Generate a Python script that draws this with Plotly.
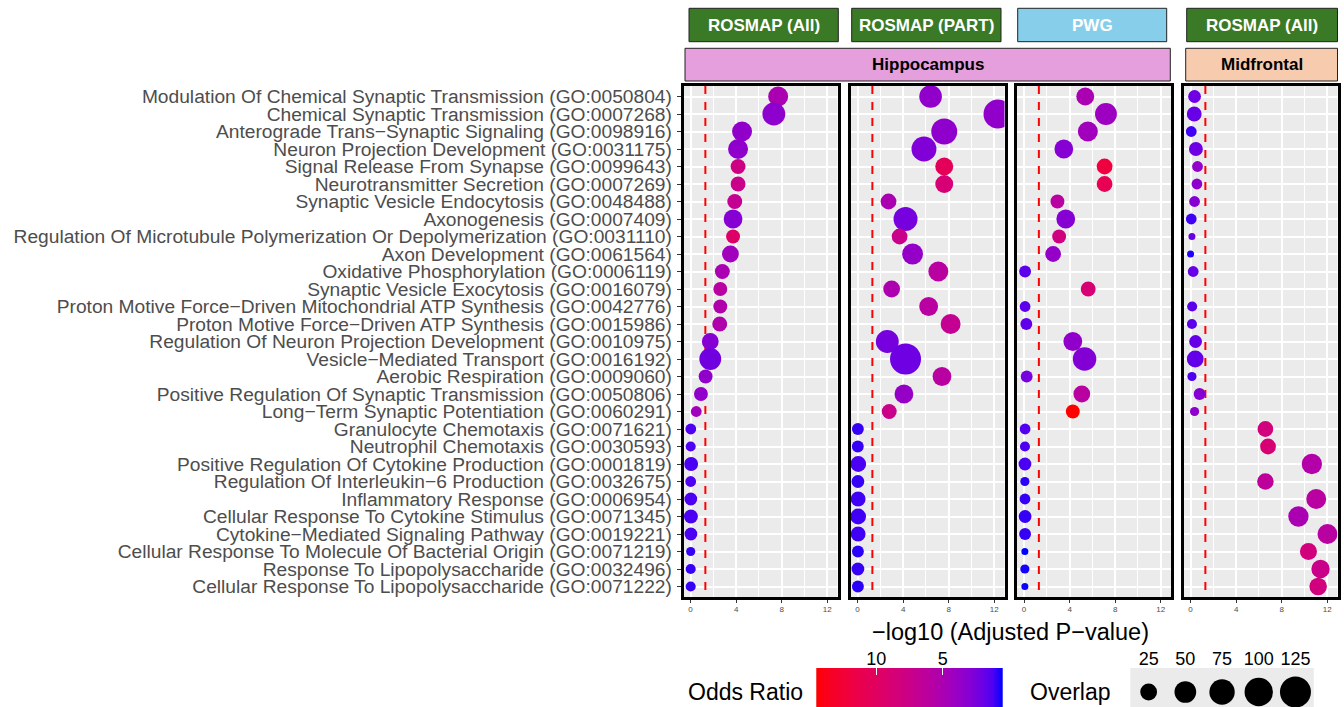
import numpy as np
import plotly.graph_objects as go

W, H = 1344, 707
MINUS = "\u2212"

terms = [
    "Modulation Of Chemical Synaptic Transmission (GO:0050804)",
    "Chemical Synaptic Transmission (GO:0007268)",
    f"Anterograde Trans{MINUS}Synaptic Signaling (GO:0098916)",
    "Neuron Projection Development (GO:0031175)",
    "Signal Release From Synapse (GO:0099643)",
    "Neurotransmitter Secretion (GO:0007269)",
    "Synaptic Vesicle Endocytosis (GO:0048488)",
    "Axonogenesis (GO:0007409)",
    "Regulation Of Microtubule Polymerization Or Depolymerization (GO:0031110)",
    "Axon Development (GO:0061564)",
    "Oxidative Phosphorylation (GO:0006119)",
    "Synaptic Vesicle Exocytosis (GO:0016079)",
    f"Proton Motive Force{MINUS}Driven Mitochondrial ATP Synthesis (GO:0042776)",
    f"Proton Motive Force{MINUS}Driven ATP Synthesis (GO:0015986)",
    "Regulation Of Neuron Projection Development (GO:0010975)",
    f"Vesicle{MINUS}Mediated Transport (GO:0016192)",
    "Aerobic Respiration (GO:0009060)",
    "Positive Regulation Of Synaptic Transmission (GO:0050806)",
    f"Long{MINUS}Term Synaptic Potentiation (GO:0060291)",
    "Granulocyte Chemotaxis (GO:0071621)",
    "Neutrophil Chemotaxis (GO:0030593)",
    "Positive Regulation Of Cytokine Production (GO:0001819)",
    f"Regulation Of Interleukin{MINUS}6 Production (GO:0032675)",
    "Inflammatory Response (GO:0006954)",
    "Cellular Response To Cytokine Stimulus (GO:0071345)",
    f"Cytokine{MINUS}Mediated Signaling Pathway (GO:0019221)",
    "Cellular Response To Molecule Of Bacterial Origin (GO:0071219)",
    "Response To Lipopolysaccharide (GO:0032496)",
    "Cellular Response To Lipopolysaccharide (GO:0071222)",
]

datasets = ["ROSMAP (All)", "ROSMAP (PART)", "PWG", "ROSMAP (All)"]
regions = ["Hippocampus", "Midfrontal"]

# -log10 adjusted p-value, odds ratio, overlap per panel
p1_x = [7.69, 7.31, 4.52, 4.17, 4.17, 4.17, 3.88, 3.73, 3.73, 3.50, 2.79, 2.61, 2.61, 2.56, 1.73,
        1.73, 1.32, 0.91, 0.50, 0.02, 0.01, 0.05, 0.01, 0.02, 0.03, 0.03, 0.01, 0.01, 0.01]
p1_or = [5.0, 3.3, 3.5, 3.4, 7.8, 7.4, 6.9, 3.0, 9.6, 4.4, 5.0, 6.0, 5.4, 5.4, 3.0,
         2.2, 3.5, 3.5, 4.4, 1.3, 1.3, 1.2, 1.3, 1.2, 1.2, 1.2, 1.0, 1.0, 1.0]
p1_ov = [40, 58, 40, 40, 18, 18, 18, 34, 15, 25, 18, 15, 15, 18, 25,
         51, 15, 15, 8, 8, 7, 15, 8, 12, 15, 12, 6, 7, 7]

p2_x = [6.41, 12.33, 7.61, 5.83, 7.61, 7.61, 2.72, 4.21, 3.69, 4.83, 7.09, 2.99, 6.24, 8.17, 2.61,
        4.21, 7.41, 4.07, 2.78, 0.03, 0.02, 0.06, 0.03, 0.05, 0.05, 0.05, 0.03, 0.03, 0.03]
p2_or = [3.5, 3.5, 3.4, 2.8, 10.5, 8.8, 5.0, 2.4, 7.4, 3.7, 6.0, 5.2, 6.0, 6.9, 2.4,
         2.1, 6.0, 3.8, 7.4, 1.0, 1.0, 1.2, 1.0, 1.1, 1.1, 1.1, 0.9, 1.0, 0.9]
p2_ov = [56, 106, 80, 72, 30, 30, 21, 65, 21, 45, 40, 25, 34, 40, 58,
         125, 34, 34, 18, 10, 10, 21, 12, 18, 21, 18, 10, 12, 10]

p3_x = [5.37, 7.19, 5.60, 3.49, 7.07, 7.07, 2.93, 3.66, 3.08, 2.55, 0.09, 5.63, 0.09, 0.20, 4.28,
        5.31, 0.23, 5.07, 4.28, 0.09, 0.08, 0.08, 0.07, 0.08, 0.09, 0.09, 0.07, 0.07, 0.07]
p3_or = [5.0, 4.2, 4.4, 3.0, 12.0, 10.8, 6.0, 3.0, 8.0, 3.7, 1.6, 8.8, 1.6, 1.7, 3.5,
         2.9, 2.4, 6.0, 14.5, 1.4, 1.3, 1.2, 0.9, 1.0, 1.0, 1.0, 0.5, 0.7, 0.6]
p3_ov = [30, 51, 40, 34, 21, 21, 15, 34, 15, 21, 10, 18, 8, 10, 34,
         62, 10, 25, 15, 8, 7, 12, 6, 8, 12, 10, 5, 6, 5]

p4_x = [0.35, 0.32, 0.06, 0.47, 0.61, 0.56, 0.35, 0.06, 0.12, 0.00, 0.23, None, 0.14, 0.12, 0.44,
        0.41, 0.12, 0.79, 0.35, 6.57, 6.80, 10.65, 6.57, 11.03, 9.47, 12.02, 10.35, 11.41, 11.20]
p4_or = [2.1, 1.9, 1.1, 2.1, 3.6, 3.4, 3.0, 1.1, 1.9, 0.8, 1.9, None, 1.6, 1.6, 1.9,
         1.8, 1.3, 3.0, 3.4, 8.2, 8.8, 5.6, 6.4, 6.0, 5.0, 6.0, 8.2, 7.4, 8.2]
p4_ov = [12, 18, 8, 15, 8, 8, 8, 8, 5, 5, 8, None, 7, 7, 12,
         25, 6, 10, 6, 21, 21, 42, 24, 40, 42, 40, 26, 32, 28]

size_breaks = [25, 50, 75, 100, 125]
or_breaks = [10, 5]
threshold = 1.3  # -log10(0.05)

panels = [(p1_x, p1_or, p1_ov), (p2_x, p2_or, p2_ov), (p3_x, p3_or, p3_ov), (p4_x, p4_or, p4_ov)]

# ---------- colour scale (CIELAB interpolation like ggplot) ----------
def _to_lin(c):
    c = c / 255.0
    return ((c + 0.055) / 1.055) ** 2.4 if c > 0.04045 else c / 12.92

def _to_srgb(c):
    c = min(max(c, 0.0), 1.0)
    v = 1.055 * c ** (1 / 2.4) - 0.055 if c > 0.0031308 else 12.92 * c
    return int(round(v * 255))

def rgb_to_lab(r, g, b):
    R, G, B = _to_lin(r), _to_lin(g), _to_lin(b)
    X = (0.4124 * R + 0.3576 * G + 0.1805 * B) / 0.95047
    Y = (0.2126 * R + 0.7152 * G + 0.0722 * B)
    Z = (0.0193 * R + 0.1192 * G + 0.9505 * B) / 1.08883
    f = lambda t: t ** (1 / 3) if t > 0.008856 else 7.787 * t + 16 / 116
    fx, fy, fz = f(X), f(Y), f(Z)
    return 116 * fy - 16, 500 * (fx - fy), 200 * (fy - fz)

def lab_to_hex(L, a, b):
    fy = (L + 16) / 116
    fx = fy + a / 500
    fz = fy - b / 200
    finv = lambda t: t ** 3 if t ** 3 > 0.008856 else (t - 16 / 116) / 7.787
    X, Y, Z = 0.95047 * finv(fx), finv(fy), 1.08883 * finv(fz)
    R = 3.2406 * X - 1.5372 * Y - 0.4986 * Z
    G = -0.9689 * X + 1.8758 * Y + 0.0415 * Z
    B = 0.0557 * X - 0.2040 * Y + 1.0570 * Z
    return "#%02x%02x%02x" % (_to_srgb(R), _to_srgb(G), _to_srgb(B))

lab_lo = rgb_to_lab(0, 0, 255)
lab_hi = rgb_to_lab(255, 0, 0)
colorscale = []
for i in range(21):
    t = i / 20
    colorscale.append([t, lab_to_hex(*[lo + (hi - lo) * t for lo, hi in zip(lab_lo, lab_hi)])])

all_or = [v for p in panels for v in p[1] if v is not None]
all_ov = [v for p in panels for v in p[2] if v is not None]
cmin, cmax = min(all_or), max(all_or)
vmin, vmax = min(all_ov), max(all_ov)
DMIN, DMAX = 7.0, 31.0

def diam(v):
    return DMIN + (DMAX - DMIN) * np.sqrt((np.asarray(v, float) - vmin) / (vmax - vmin))

# ---------- layout geometry (pixels) ----------
def px_x(p):
    return p / W

def px_y(p):
    return 1 - p / H

panel_left = [683.5, 850.5, 1017.0, 1183.5]
panel_w = 154.0
panel_top, panel_bot = 86.0, 597.0
FONT = "Liberation Sans, Arial, sans-serif"
GREY = "#4D4D4D"
NT = len(terms)
y_lo, y_hi = -0.6, NT - 1 + 0.6
row_pos = list(range(NT))

fig = go.Figure()
layout = dict(
    width=W, height=H, margin=dict(l=0, r=0, t=0, b=0),
    paper_bgcolor="white", plot_bgcolor="#EBEBEB",
    showlegend=False, font=dict(family=FONT, color="black"),
    coloraxis=dict(colorscale=colorscale, cmin=cmin, cmax=cmax, showscale=False),
)

shapes = []
annotations = []

for i, (xs, ors, ovs) in enumerate(panels):
    n = i + 1
    xa = "x" if n == 1 else f"x{n}"
    ya = "y" if n == 1 else f"y{n}"
    xk = "xaxis" if n == 1 else f"xaxis{n}"
    yk = "yaxis" if n == 1 else f"yaxis{n}"
    # significance threshold line (drawn first so points sit on top)
    fig.add_trace(go.Scatter(
        x=[threshold, threshold], y=[y_lo, y_hi], mode="lines", xaxis=xa, yaxis=ya,
        line=dict(color="red", width=2, dash="8px,8px"), hoverinfo="skip",
    ))
    idx = [k for k in range(NT) if xs[k] is not None]
    fig.add_trace(go.Scatter(
        x=[xs[k] for k in idx], y=[row_pos[k] for k in idx], mode="markers",
        xaxis=xa, yaxis=ya, cliponaxis=True,
        marker=dict(size=diam([ovs[k] for k in idx]), sizemode="diameter",
                    color=[ors[k] for k in idx], coloraxis="coloraxis",
                    opacity=1, line=dict(width=0)),
        hoverinfo="skip",
    ))
    left = panel_left[i]
    layout[xk] = dict(
        domain=[px_x(left), px_x(left + panel_w)], anchor=ya,
        range=[-0.62, 12.9], tickmode="linear", tick0=0, dtick=4,
        showgrid=True, gridcolor="white", gridwidth=1.8, zeroline=False,
        minor=dict(tick0=0, dtick=2, showgrid=True, gridcolor="white", gridwidth=0.9, ticks=""),
        showline=True, mirror=True, linecolor="black", linewidth=2.5,
        ticks="outside", ticklen=3, tickwidth=1, tickcolor="#333333",
        tickfont=dict(size=8, color=GREY, family=FONT), automargin=False, fixedrange=True,
    )
    layout[yk] = dict(
        domain=[px_y(panel_bot), px_y(panel_top)], anchor=xa,
        tickmode="array", tickvals=row_pos, ticktext=terms,
        range=[y_hi, y_lo],
        showgrid=True, gridcolor="white", gridwidth=1.8, zeroline=False,
        showline=True, mirror=True, linecolor="black", linewidth=2.5,
        ticks="outside" if n == 1 else "", ticklen=4, tickwidth=1, tickcolor="#333333",
        showticklabels=(n == 1), ticklabelstandoff=1,
        tickfont=dict(size=19.2, color=GREY, family=FONT), automargin=False, fixedrange=True,
    )

# ---------- strips ----------
top_strips = [(689.0, 838.3, "#3A7A26"), (851.7, 1001.0, "#3A7A26"),
              (1017.7, 1166.7, "#87CEEB"), (1186.7, 1337.5, "#3A7A26")]
for (x0, x1, col), lab in zip(top_strips, datasets):
    shapes.append(dict(type="rect", xref="paper", yref="paper", x0=px_x(x0), x1=px_x(x1),
                       y0=px_y(41.7), y1=px_y(8.3), fillcolor=col, line=dict(color="#222222", width=1)))
    annotations.append(dict(xref="paper", yref="paper", x=px_x((x0 + x1) / 2), y=px_y(25),
                            text=f"<b>{lab}</b>", showarrow=False, xanchor="center", yanchor="middle",
                            font=dict(size=17, color="white", family=FONT)))
bot_strips = [(685.0, 1170.3, "#E59FDC"), (1185.7, 1337.5, "#F6CBAE")]
for (x0, x1, col), lab in zip(bot_strips, regions):
    shapes.append(dict(type="rect", xref="paper", yref="paper", x0=px_x(x0), x1=px_x(x1),
                       y0=px_y(81), y1=px_y(48.3), fillcolor=col, line=dict(color="#222222", width=1)))
    annotations.append(dict(xref="paper", yref="paper", x=px_x((x0 + x1) / 2), y=px_y(64.8),
                            text=f"<b>{lab}</b>", showarrow=False, xanchor="center", yanchor="middle",
                            font=dict(size=17, color="black", family=FONT)))

# ---------- axis title ----------
annotations.append(dict(xref="paper", yref="paper", x=px_x(1010.5), y=px_y(632),
                        text=f"{MINUS}log10 (Adjusted P{MINUS}value)", showarrow=False,
                        xanchor="center", yanchor="middle", font=dict(size=23.5, color="black", family=FONT)))

# ---------- colour legend (heatmap bar) ----------
bar_vals = np.linspace(cmin, cmax, 300)
fig.add_trace(go.Heatmap(x=bar_vals, y=[0], z=[bar_vals], coloraxis="coloraxis",
                         xaxis="x5", yaxis="y5", hoverinfo="skip"))
layout["xaxis5"] = dict(domain=[px_x(816.3), px_x(1002.7)], anchor="y5", range=[cmax, cmin],
                        side="top", tickmode="array", tickvals=or_breaks,
                        ticktext=[str(v) for v in or_breaks],
                        ticks="inside", ticklen=7, tickwidth=1, tickcolor="white",
                        ticklabelstandoff=-2,
                        showgrid=False, zeroline=False, showline=False,
                        tickfont=dict(size=18, color="black", family=FONT), automargin=False, fixedrange=True)
layout["yaxis5"] = dict(domain=[0, px_y(668)], anchor="x5", range=[-0.5, 0.5], visible=False, fixedrange=True)
annotations.append(dict(xref="paper", yref="paper", x=px_x(686), y=px_y(692), text="Odds Ratio",
                        showarrow=False, xanchor="left", yanchor="middle",
                        font=dict(size=23, color="black", family=FONT)))

# ---------- size legend ----------
fig.add_trace(go.Scatter(x=list(range(len(size_breaks))), y=[0] * len(size_breaks), mode="markers",
                         xaxis="x6", yaxis="y6", cliponaxis=False, hoverinfo="skip",
                         marker=dict(size=diam(size_breaks), sizemode="diameter", color="#000000",
                                     opacity=1, line=dict(width=0))))
layout["xaxis6"] = dict(domain=[px_x(1130.3), px_x(1313.8)], anchor="y6", range=[-0.5, len(size_breaks) - 0.5],
                        side="top", tickmode="array", tickvals=list(range(len(size_breaks))),
                        ticktext=[str(v) for v in size_breaks], ticks="", ticklabelstandoff=-2,
                        showgrid=False, zeroline=False, showline=False,
                        tickfont=dict(size=18, color="black", family=FONT), automargin=False, fixedrange=True)
layout["yaxis6"] = dict(domain=[0, px_y(668)], anchor="x6", range=[-0.385, 0.615], visible=False, fixedrange=True)
annotations.append(dict(xref="paper", yref="paper", x=px_x(1028), y=px_y(692), text="Overlap",
                        showarrow=False, xanchor="left", yanchor="middle",
                        font=dict(size=23, color="black", family=FONT)))

layout["shapes"] = shapes
layout["annotations"] = annotations
fig.update_layout(**layout)
fig.write_html("out.html", config={"displayModeBar": False})
